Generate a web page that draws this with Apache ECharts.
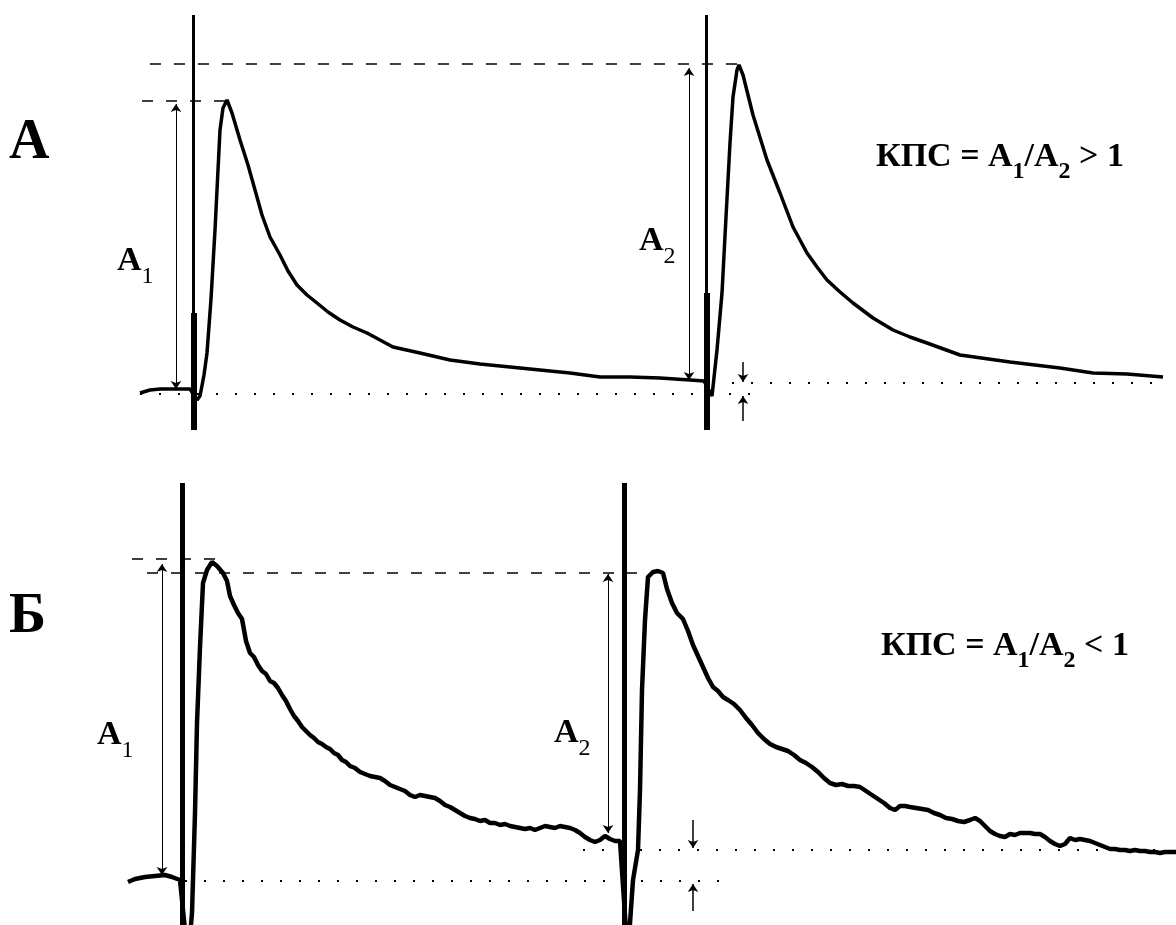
<!DOCTYPE html>
<html><head><meta charset="utf-8">
<script src="https://cdn.jsdelivr.net/npm/echarts@6/dist/echarts.min.js"></script>
<style>html,body{margin:0;padding:0;background:#fff}#c{width:1176px;height:925px}</style>
</head><body><div id="c"></div>
<script>
// ---------- Panel А (time, amplitude relative to baseline) ----------
const timeA = [140,150,160,175,190,197,200,204,207,211,215,218,220,223,227,232,240,248,255,262,270,280,288,297,307,317,328,340,353,367,380,393,420,450,480,510,540,570,600,630,660,690,704,712,717,722,726,730,733,737,739,743,753,767,780,793,807,817,827,840,853,873,893,910,927,960,1010,1060,1093,1127,1163];
const ampA  = [1,4,5,5,5,-6,-2,19,41,95,164,224,264,286,294,281,254,229,204,179,157,139,123,109,99,91,82,74,67,61,54,47,41,34,30,27,24,21,17,17,16,14,13,-2,44,101,177,251,297,324,329,319,279,234,201,167,141,127,114,102,91,76,64,57,51,39,32,26,21,20,17];
// stimulus artifacts: [time, top, bottom]
const artifactA = [[193, 379, -36], [706, 379, -36]];
const artifactThickA = [[194, 81, -36], [707, 101, -36]];
// dashed reference levels: [from, to, level]
const dashedA = [[150, 740, 330], [142, 225, 293]];
// dotted baselines: [from, to, level]
const dottedA = [[140, 757, 0], [713, 1168, 11]];
// amplitude measures: [time, from, to]
const measureA = [[176, 5, 290], [689, 14, 326]];
// small pointer arrows: [time, from, to]
const pointerA = [[743, 32, 12], [743, -27, -2]];

// ---------- Panel Б ----------
const timeB = [128,135,145,155,165,172,180,188,192,195,197,200,203,207,212,217,223,227,230,234,238,242,246,250,254,258,262,266,270,274,278,282,286,290,294,298,302,306,310,314,318,322,326,330,334,338,342,346,350,355,360,365,370,375,380,385,390,395,400,405,410,415,420,425,430,435,440,445,450,455,460,465,470,475,480,485,490,495,500,505,510,515,520,525,530,535,540,545,550,555,560,565,570,575,580,585,590,595,600,605,610,615,620,622,628,630,633,638,640,642,645,648,653,658,663,667,672,677,683,688,693,698,703,708,713,718,723,728,734,740,746,752,758,764,770,776,782,788,794,800,806,812,818,824,830,836,842,848,854,860,866,872,878,884,890,895,900,905,910,916,922,928,934,940,946,952,958,964,970,975,980,985,990,995,1000,1005,1010,1015,1020,1025,1030,1035,1040,1045,1050,1055,1060,1065,1070,1075,1080,1085,1090,1095,1100,1105,1110,1115,1120,1125,1130,1135,1140,1145,1150,1155,1160,1165,1170,1176];
const ampB  = [-1,2,4,5,6,4,1,-79,-32,68,158,234,298,311,319,315,308,300,285,276,268,262,240,228,224,216,210,207,200,198,193,186,180,172,165,160,154,150,146,143,139,137,134,132,128,126,121,119,115,113,109,107,105,104,103,100,96,94,92,90,86,84,86,85,84,83,80,76,74,71,68,65,63,62,60,61,58,58,56,57,55,54,53,52,53,51,53,55,54,53,55,54,53,51,48,44,41,39,41,45,42,40,40,39,-79,-42,1,31,91,191,261,304,309,310,308,292,278,268,262,250,236,225,214,203,194,190,184,181,177,171,163,156,148,142,137,134,132,130,126,121,118,114,109,103,98,96,97,95,95,94,90,86,82,78,73,71,75,75,74,73,72,71,68,66,63,62,60,59,61,63,60,55,50,47,45,44,47,46,48,48,48,47,47,44,40,37,35,37,43,41,42,41,40,38,36,34,32,32,31,31,30,31,30,30,29,29,28,29,29,29];
const artifactB = [[182, 398, -44], [624, 398, -44]];
const dashedB = [[132, 217, 322], [147, 637, 308]];
const dottedB = [[185, 727, 0], [583, 1170, 31]];
const measureB = [[162, 6, 317], [608, 48, 307]];
const pointerB = [[693, 61, 33], [693, -30, -3]];

const panelLabels = ['А', 'Б'];
const formulaA = '{m|КПС = A}{s|1}{m|/A}{s|2}{m| > 1}';
const formulaB = '{m|КПС = A}{s|1}{m|/A}{s|2}{m| < 1}';

const zip = (t, a) => t.map((v, i) => [v, a[i]]);
const hSegs = arr => arr.map(s => ({coords: [[s[0], s[2]], [s[1], s[2]]]}));
const vSegs = arr => arr.map(s => ({coords: [[s[0], s[1]], [s[0], s[2]]]}));

function panelSeries(gi, time, amp, artifact, artifactThick, dashed, dotted, measure, pointer, traceWidth) {
  const base = {xAxisIndex: gi, yAxisIndex: gi, silent: true, animation: false};
  const s = [];
  s.push(Object.assign({type: 'lines', coordinateSystem: 'cartesian2d', data: hSegs(dashed),
    lineStyle: {color: '#000', width: 1.5, type: [11, 13], opacity: 1}}, base));
  s.push(Object.assign({type: 'lines', coordinateSystem: 'cartesian2d', data: hSegs(dotted),
    lineStyle: {color: '#000', width: 2, type: [2, 17], opacity: 1}}, base));
  s.push(Object.assign({type: 'lines', coordinateSystem: 'cartesian2d', data: vSegs(measure),
    symbol: ['arrow', 'arrow'], symbolSize: 8,
    lineStyle: {color: '#000', width: 1, opacity: 1}}, base));
  s.push(Object.assign({type: 'lines', coordinateSystem: 'cartesian2d', data: vSegs(pointer),
    symbol: ['none', 'arrow'], symbolSize: 8,
    lineStyle: {color: '#000', width: 1.5, opacity: 1}}, base));
  s.push(Object.assign({type: 'lines', coordinateSystem: 'cartesian2d', data: vSegs(artifact),
    lineStyle: {color: '#000', width: gi === 0 ? 3 : 5, opacity: 1}}, base));
  if (artifactThick) s.push(Object.assign({type: 'lines', coordinateSystem: 'cartesian2d', data: vSegs(artifactThick),
    lineStyle: {color: '#000', width: 6, opacity: 1}}, base));
  s.push(Object.assign({type: 'line', data: zip(time, amp), symbol: 'none', clip: true, smooth: false,
    lineStyle: {color: '#000', width: traceWidth, join: 'bevel'}}, base));
  return s;
}

const chart = echarts.init(document.getElementById('c'), null, {renderer: 'canvas'});
const serif = "'Liberation Serif', 'DejaVu Serif', serif";
const labelRich = {
  m: {fontFamily: serif, fontSize: 34, fontWeight: 'bold', lineHeight: 56, color: '#000'},
  s: {fontFamily: serif, fontSize: 24, lineHeight: 24, verticalAlign: 'bottom', color: '#000'}
};
const formulaRich = {
  m: {fontFamily: serif, fontSize: 34, fontWeight: 'bold', lineHeight: 54, color: '#000'},
  s: {fontFamily: serif, fontSize: 24, fontWeight: 'bold', lineHeight: 24, verticalAlign: 'bottom', color: '#000'}
};
function txt(x, y, text, rich) {
  return {type: 'text', x: x, y: y, silent: true, style: {text: text, rich: rich, fill: '#000'}};
}
chart.setOption({
  animation: false,
  backgroundColor: '#fff',
  grid: [
    {left: 0, right: 0, top: 0, height: 440},
    {left: 0, right: 0, top: 440, height: 485}
  ],
  xAxis: [
    {gridIndex: 0, type: 'value', min: 0, max: 1176, show: false},
    {gridIndex: 1, type: 'value', min: 0, max: 1176, show: false}
  ],
  yAxis: [
    {gridIndex: 0, type: 'value', min: -46, max: 394, show: false},
    {gridIndex: 1, type: 'value', min: -44, max: 441, show: false}
  ],
  series: [].concat(
    panelSeries(0, timeA, ampA, artifactA, artifactThickA, dashedA, dottedA, measureA, pointerA, 3.5),
    panelSeries(1, timeB, ampB, artifactB, null, dashedB, dottedB, measureB, pointerB, 4.5)
  ),
  graphic: [
    {type: 'text', x: 9, y: 116, silent: true, style: {text: panelLabels[0], font: "bold 56px " + serif, fill: '#000', lineHeight: 56}},
    {type: 'text', x: 9, y: 590, silent: true, style: {text: panelLabels[1], font: "bold 56px " + serif, fill: '#000', lineHeight: 56}},
    txt(117, 233, '{m|A}{s|1}', labelRich),
    txt(639, 213, '{m|A}{s|2}', labelRich),
    txt(97, 707, '{m|A}{s|1}', labelRich),
    txt(554, 705, '{m|A}{s|2}', labelRich),
    txt(876, 130, formulaA, formulaRich),
    txt(881, 619, formulaB, formulaRich)
  ]
});
</script>
</body></html>
